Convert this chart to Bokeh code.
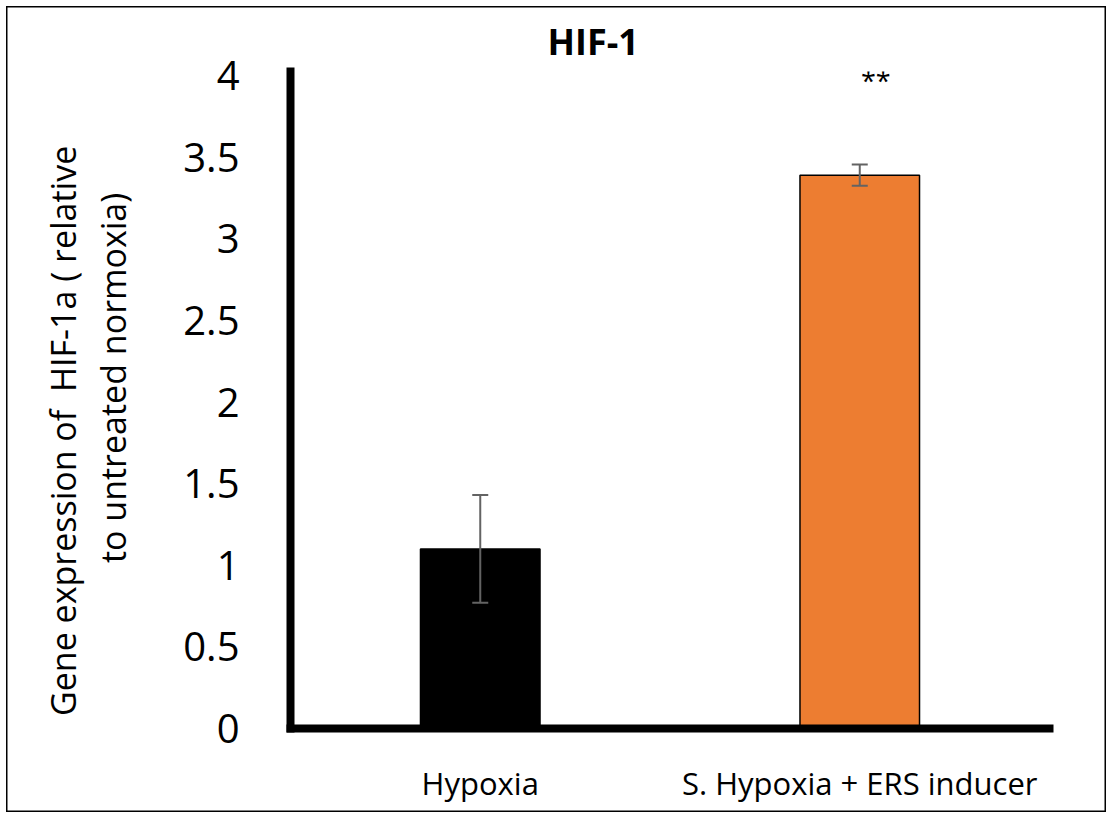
from bokeh.plotting import figure
from bokeh.models import ColumnDataSource, Whisker, TeeHead, NumeralTickFormatter, InlineStyleSheet
from bokeh.embed import file_html
from bokeh.resources import INLINE
from bokeh.core.properties import value

# ---- data ----
categories = ["Hypoxia", "S. Hypoxia + ERS inducer"]
values = [1.10, 3.39]
errors = [0.33, 0.065]
colors = ["#000000", "#ED7D31"]
significance = ["", "**"]
y_ticks = [0, 0.5, 1, 1.5, 2, 2.5, 3, 3.5, 4]
title_text = "HIF-1"
NB = "\u00a0"
ylabel_line1 = "Gene expression of " + NB + "HIF-1a ( relative" + NB * 7
ylabel_line2 = NB * 5 + "to untreated normoxia)"

FONT = "Open Sans"
W, H = 1112, 818

upper = [v + e for v, e in zip(values, errors)]
lower = [v - e for v, e in zip(values, errors)]
src = ColumnDataSource(dict(cat=categories, val=values, upper=upper, lower=lower,
                            color=colors, sig=significance,
                            sig_y=[3.97 if s else 0 for s in significance]))

p = figure(x_range=categories, y_range=(0, 4.025), width=W, height=H,
           output_backend="svg", toolbar_location=None, title=title_text,
           min_border_left=290, min_border_right=W - 1049, min_border_top=71,
           min_border_bottom=H - 728)
p.stylesheets = [InlineStyleSheet(css=(
    ":host { outline: 1.5px solid #000; outline-offset: -7px; "
    "box-shadow: inset 0 0 0 6px #fff, inset 0 0 0 7.5px #000; background: #fff; }"
))]
p.outline_line_color = None
p.xgrid.visible = False
p.ygrid.visible = False
p.background_fill_color = None
p.border_fill_color = None

p.title.text_font = FONT
p.title.text_font_style = "bold"
p.title.text_font_size = "36px"
p.title.text_color = "black"
p.title.align = "left"
p.title.offset = 257
p.title.standoff = 12

for ax in (p.xaxis[0], p.yaxis[0]):
    ax.axis_line_width = 8
    ax.axis_line_color = "black"
    ax.axis_line_cap = "square"
    ax.major_tick_line_color = None
    ax.minor_tick_line_color = None
    ax.major_label_text_font = FONT
    ax.major_label_text_color = "black"

p.yaxis.ticker = y_ticks
p.yaxis.formatter = NumeralTickFormatter(format="0.[0]")
p.yaxis.major_label_text_font_size = "40px"
p.yaxis.major_label_standoff = 45
p.yaxis.axis_label = ylabel_line1 + "\n" + ylabel_line2
p.yaxis.axis_label_text_font = FONT
p.yaxis.axis_label_text_font_size = "34px"
p.yaxis.axis_label_text_font_style = "normal"
p.yaxis.axis_label_text_color = "black"
p.yaxis.axis_label_text_line_height = 1.1
p.yaxis.axis_label_standoff = 44

p.xaxis.major_label_text_font_size = "31px"
p.xaxis.major_label_standoff = 27
p.x_range.range_padding = 0

p.vbar(x="cat", top="val", width=0.315, bottom=0, fill_color="color",
       line_color="black", line_width=1.5, source=src)

whisk = Whisker(base="cat", upper="upper", lower="lower", source=src,
                line_color="#636363", line_width=2, level="overlay",
                upper_head=TeeHead(size=16, line_color="#636363", line_width=2),
                lower_head=TeeHead(size=16, line_color="#636363", line_width=2))
p.add_layout(whisk)

p.text(x="cat", y="sig_y", text="sig", source=src, x_offset=16,
       text_font=value(FONT), text_font_size="27px", text_align="center",
       text_baseline="alphabetic", text_color="black")

open("out.html", "w").write(file_html(p, INLINE))
